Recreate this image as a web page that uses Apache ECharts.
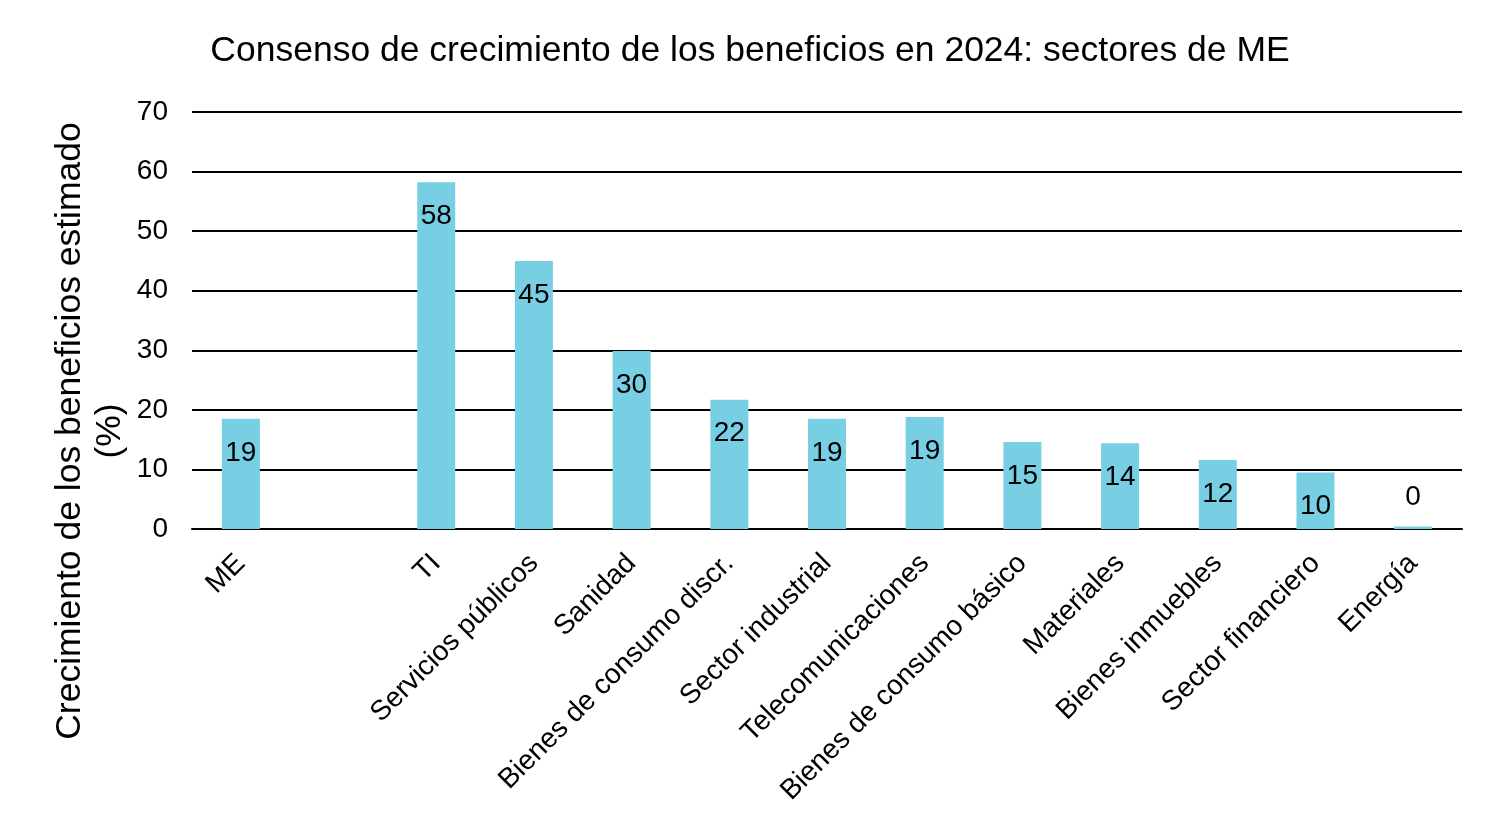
<!DOCTYPE html>
<html>
<head>
<meta charset="utf-8">
<script src="https://cdn.jsdelivr.net/npm/echarts@6/dist/echarts.min.js"></script>
<style>
  html, body { margin: 0; padding: 0; background: #fff; }
  #chart { width: 1500px; height: 832px; }
</style>
</head>
<body>
<div id="chart"></div>
<script>
// categories (empty slot between ME and TI as in the original)
const categories = ['ME', '', 'TI', 'Servicios públicos', 'Sanidad', 'Bienes de consumo discr.',
  'Sector industrial', 'Telecomunicaciones', 'Bienes de consumo básico', 'Materiales',
  'Bienes inmuebles', 'Sector financiero', 'Energía']
// estimated earnings growth, %
const growth = [18.5, null, 58.2, 45.0, 29.9, 21.7, 18.5, 18.8, 14.6, 14.4, 11.6, 9.5, 0.4]
const yTicks = { min: 0, max: 70, interval: 10 }

const chart = echarts.init(document.getElementById('chart'))
const font = "'Liberation Sans', Arial, sans-serif"

const barData = growth.map(v => {
  if (v === null) return '-'
  // very small bars get the label above
  if (v < 3) return { value: v, label: { position: 'top', distance: 15 } }
  return v
})

chart.setOption({
  animation: false,
  title: {
    text: 'Consenso de crecimiento de los beneficios en 2024: sectores de ME',
    left: 745,
    textAlign: 'center',
    top: 28,
    textStyle: { fontFamily: font, fontSize: 35.5, fontWeight: 'normal', color: '#000' }
  },
  graphic: [{
    type: 'text',
    x: 90,
    y: 431,
    rotation: Math.PI / 2,
    style: {
      text: 'Crecimiento de los beneficios estimado\n(%)',
      fontFamily: font,
      fontSize: 35.5,
      lineHeight: 40,
      fill: '#000',
      align: 'center',
      verticalAlign: 'middle'
    }
  }],
  grid: { left: 192, right: 38, top: 112, bottom: 303 },
  xAxis: {
    type: 'category',
    data: categories,
    axisTick: { show: false },
    axisLine: { lineStyle: { color: '#000', width: 2 } },
    axisLabel: {
      interval: 0,
      rotate: 45,
      margin: 30,
      fontFamily: font,
      fontSize: 28,
      color: '#000'
    }
  },
  yAxis: {
    type: 'value',
    min: yTicks.min,
    max: yTicks.max,
    interval: yTicks.interval,
    axisLine: { show: false },
    axisTick: { show: false },
    axisLabel: { fontFamily: font, fontSize: 28, color: '#000', margin: 24 },
    splitLine: { lineStyle: { color: '#000', width: 2 } }
  },
  series: [{
    type: 'bar',
    data: barData,
    barWidth: 38,
    itemStyle: { color: '#78CFE3' },
    label: {
      show: true,
      position: 'insideTop',
      distance: 20,
      fontFamily: font,
      fontSize: 28,
      color: '#000',
      formatter: p => Math.round(p.value)
    }
  }]
})
</script>
</body>
</html>
